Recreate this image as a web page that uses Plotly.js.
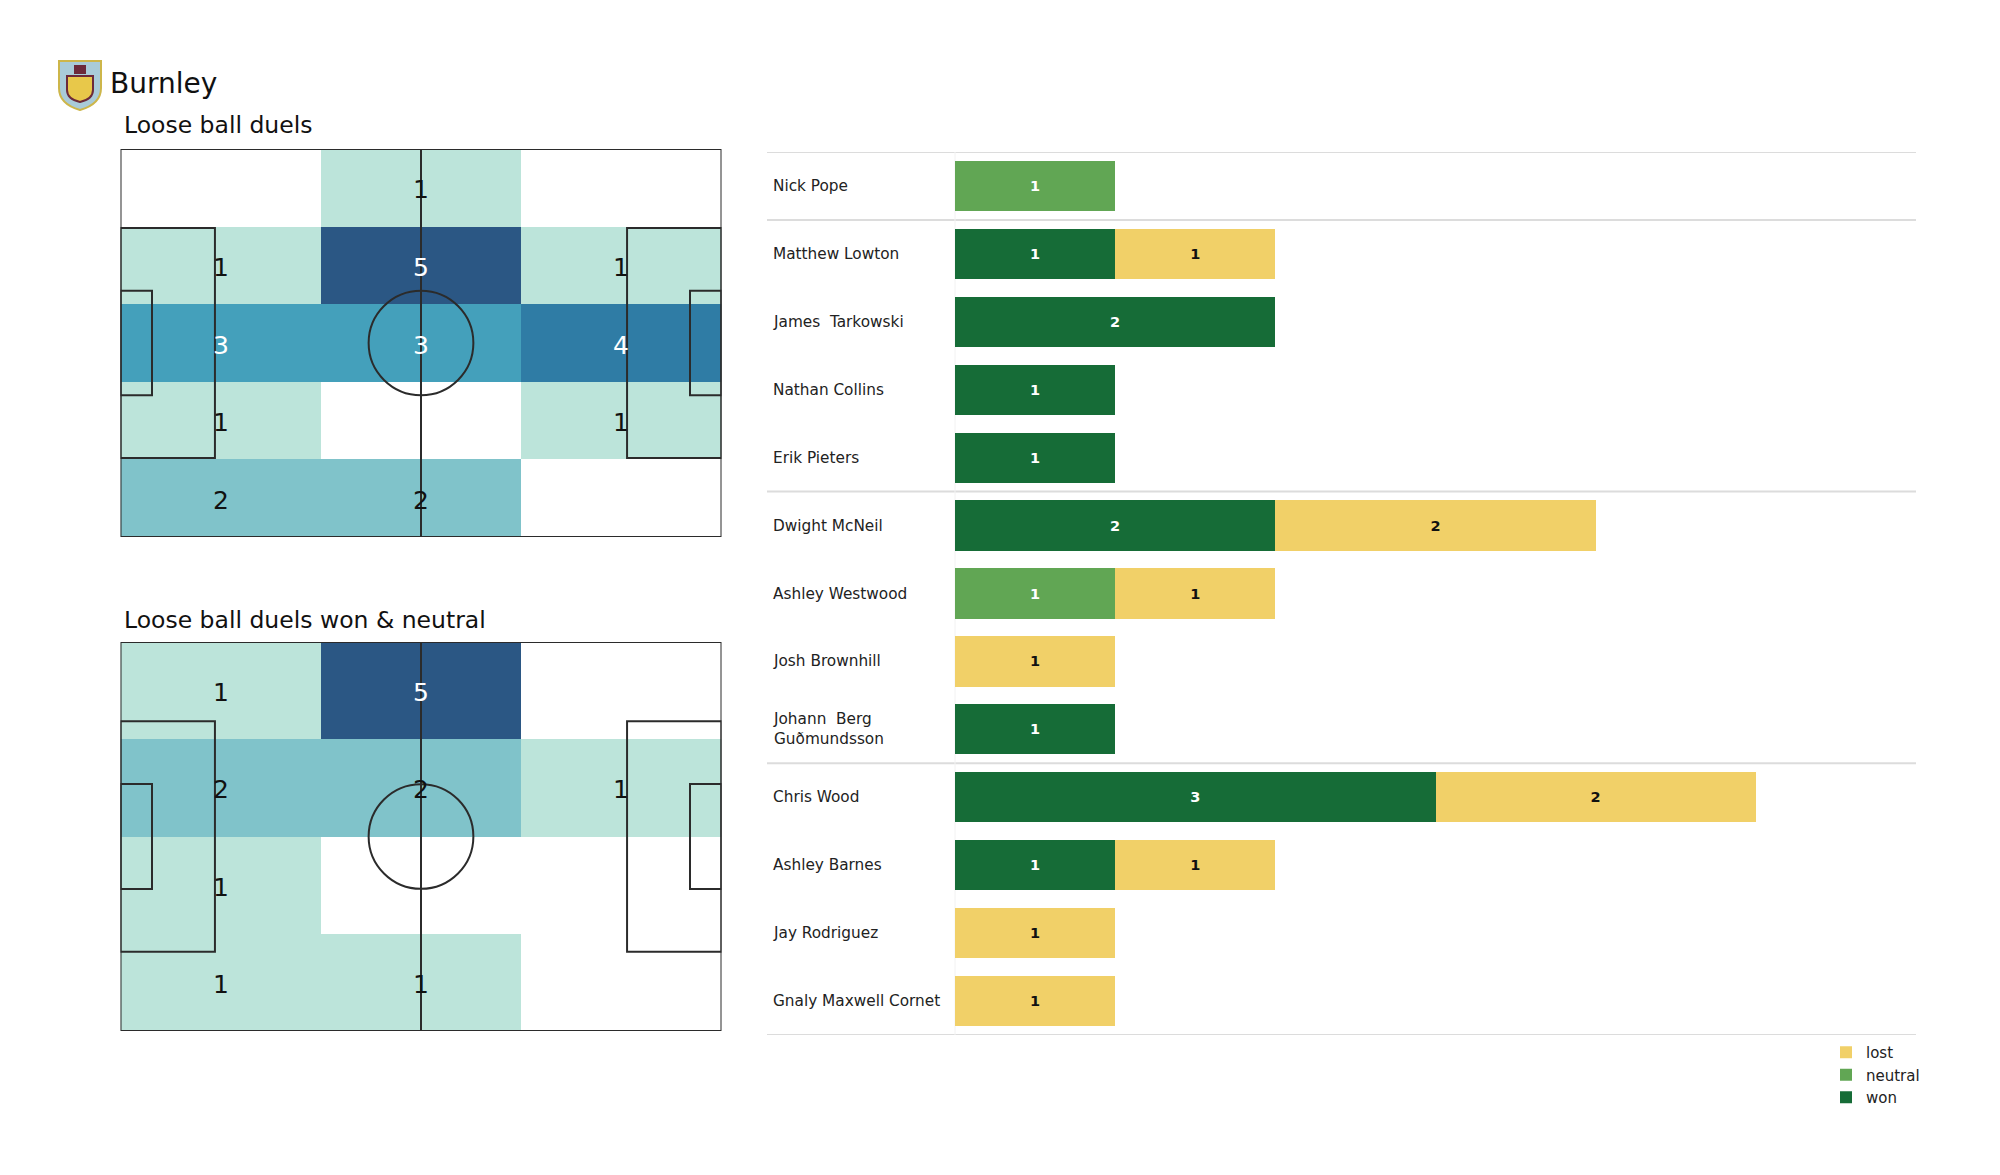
<!DOCTYPE html>
<html>
<head>
<meta charset="utf-8">
<script src="https://cdn.plot.ly/plotly-3.0.1.min.js"></script>
<style>html,body{margin:0;padding:0;background:#fff}</style>
</head>
<body>
<div id="chart" style="width:2000px;height:1175px"></div>
<script>
// ---------- DATA ----------
const teamName = 'Burnley';
const heatTitle1 = 'Loose ball duels';
const heatTitle2 = 'Loose ball duels won & neutral';

// heatmap 1: 5 rows (top to bottom) x 3 columns (left to right)
const heat1 = [
  [0, 1, 0],
  [1, 5, 1],
  [3, 3, 4],
  [1, 0, 1],
  [2, 2, 0]
];
// heatmap 2: 4 rows x 3 columns
const heat2 = [
  [1, 5, 0],
  [2, 2, 1],
  [1, 0, 0],
  [1, 1, 0]
];

const players = ['Nick Pope', 'Matthew Lowton', 'James \u00a0Tarkowski', 'Nathan Collins', 'Erik Pieters',
  'Dwight McNeil', 'Ashley Westwood', 'Josh Brownhill', 'Johann \u00a0Berg Guðmundsson',
  'Chris Wood', 'Ashley Barnes', 'Jay Rodriguez', 'Gnaly Maxwell Cornet'];
const won     = [0, 1, 2, 1, 1, 2, 0, 0, 1, 3, 1, 0, 0];
const neutral = [1, 0, 0, 0, 0, 0, 1, 0, 0, 0, 0, 0, 0];
const lost    = [0, 1, 0, 0, 0, 2, 1, 1, 0, 2, 1, 1, 1];
const groupBreaks = [1, 5, 9]; // index of first player of each group after the first

// ---------- STYLE ----------
const W = 2000, H = 1175;
const px = v => v / W, py = v => 1 - v / H;
const FONT = 'DejaVu Sans, Verdana, sans-serif';
const PL = 105, PW = 68;
const heatScale = [[0, '#ffffff'], [0.2, '#bce4da'], [0.4, '#80c3ca'], [0.6, '#44a0bb'], [0.8, '#2f7ca5'], [1, '#2b5784']];
const colWon = '#166c37', colNeutral = '#61a654', colLost = '#f1d068';

function cellCenters(z) {
  const nr = z.length, nc = z[0].length;
  const xs = [], ys = [];
  for (let c = 0; c < nc; c++) xs.push((c + 0.5) * PL / nc);
  for (let r = 0; r < nr; r++) ys.push((r + 0.5) * PW / nr);
  return {xs, ys};
}
function heatTrace(z, xa, ya) {
  const {xs, ys} = cellCenters(z);
  return {type: 'heatmap', z: z, x: xs, y: ys, xaxis: xa, yaxis: ya, zmin: 0, zmax: 5,
    colorscale: heatScale, showscale: false, showlegend: false, hoverinfo: 'skip'};
}
function heatLabels(z, xa, ya) {
  const {xs, ys} = cellCenters(z);
  const out = [];
  z.forEach((row, r) => row.forEach((v, c) => {
    if (v > 0) out.push({text: String(v), xref: xa, yref: ya, x: xs[c], y: ys[r], showarrow: false,
      xanchor: 'center', yanchor: 'middle', yshift: -2,
      font: {family: FONT, size: 25, color: v >= 3 ? '#ffffff' : '#111111'}});
  }));
  return out;
}

function pitchShapes(xr, yr) {
  const L = {color: '#2b2b2b', width: 2};
  const s = [];
  const rect = (x0, y0, x1, y1) => s.push({type: 'rect', xref: xr, yref: yr, x0, y0, x1, y1, line: L, layer: 'above'});
  rect(0, 0, PL, PW);
  s.push({type: 'line', xref: xr, yref: yr, x0: PL / 2, x1: PL / 2, y0: 0, y1: PW, line: L, layer: 'above'});
  s.push({type: 'circle', xref: xr, yref: yr, x0: PL / 2 - 9.15, x1: PL / 2 + 9.15, y0: PW / 2 - 9.15, y1: PW / 2 + 9.15, line: L, layer: 'above'});
  const pbH = 40.32, gaH = 18.32;
  rect(0, (PW - pbH) / 2, 16.5, (PW + pbH) / 2);
  rect(PL - 16.5, (PW - pbH) / 2, PL, (PW + pbH) / 2);
  rect(0, (PW - gaH) / 2, 5.5, (PW + gaH) / 2);
  rect(PL - 5.5, (PW - gaH) / 2, PL, (PW + gaH) / 2);
  return s;
}

const txtOf = arr => arr.map(v => v ? String(v) : '');
function barTrace(name, vals, color, txtColor) {
  return {type: 'bar', orientation: 'h', name: name, x: vals, y: players, xaxis: 'x3', yaxis: 'y3',
    marker: {color: color, line: {width: 0}}, width: 0.74,
    text: txtOf(vals), textposition: 'inside', insidetextanchor: 'middle', textangle: 0,
    constraintext: 'none', hoverinfo: 'skip',
    textfont: {family: FONT, size: 14.5, color: txtColor, weight: 'bold'}};
}

const traces = [
  heatTrace(heat1, 'x', 'y'),
  heatTrace(heat2, 'x2', 'y2'),
  barTrace('won', won, colWon, '#ffffff'),
  barTrace('neutral', neutral, colNeutral, '#ffffff'),
  barTrace('lost', lost, colLost, '#111111')
];

const hidden = {showgrid: false, zeroline: false, showticklabels: false, ticks: '', showline: false, fixedrange: true};
const pitchX = [px(120.5), px(721.5)];

// separator lines for bar table
const sepY = [-0.5, ...groupBreaks.map(i => i - 0.5), players.length - 0.5];
const shapes = [
  ...pitchShapes('x', 'y'),
  ...pitchShapes('x2', 'y2'),
  ...sepY.map(v => ({type: 'line', xref: 'paper', yref: 'y3', x0: px(767), x1: px(1916), y0: v, y1: v,
    line: {color: '#dcdcdc', width: 2}, layer: 'below'})),
  {type: 'line', xref: 'paper', yref: 'paper', x0: px(955), x1: px(955), y0: py(1035), y1: py(152),
    line: {color: '#f2f2f2', width: 1}, layer: 'below'},
  // simple crest
  {type: 'path', xref: 'paper', yref: 'paper',
    path: `M ${px(59)},${py(61)} L ${px(101)},${py(61)} L ${px(101)},${py(88)} Q ${px(101)},${py(104)} ${px(80)},${py(110)} Q ${px(59)},${py(104)} ${px(59)},${py(88)} Z`,
    fillcolor: '#a9cbd8', line: {color: '#cdb64a', width: 2}},
  {type: 'path', xref: 'paper', yref: 'paper',
    path: `M ${px(67)},${py(76)} L ${px(93)},${py(76)} L ${px(93)},${py(90)} Q ${px(93)},${py(99)} ${px(80)},${py(102)} Q ${px(67)},${py(99)} ${px(67)},${py(90)} Z`,
    fillcolor: '#e8c84a', line: {color: '#6c2a3a', width: 2}},
  {type: 'rect', xref: 'paper', yref: 'paper', x0: px(74), x1: px(86), y0: py(74), y1: py(65),
    fillcolor: '#6c2a3a', line: {width: 0}}
];

const wrap = s => s.length > 20 ? s.replace(/ (?=[^ ]*$)/, '<br>') : s;
const annotations = [
  {text: teamName, xref: 'paper', yref: 'paper', x: px(108), y: py(83), xanchor: 'left', yanchor: 'middle',
    showarrow: false, font: {family: FONT, size: 28, color: '#111'}},
  {text: heatTitle1, xref: 'paper', yref: 'paper', x: px(122), y: py(125), xanchor: 'left', yanchor: 'middle',
    showarrow: false, font: {family: FONT, size: 23.5, color: '#111'}},
  {text: heatTitle2, xref: 'paper', yref: 'paper', x: px(122), y: py(620), xanchor: 'left', yanchor: 'middle',
    showarrow: false, font: {family: FONT, size: 23.5, color: '#111'}},
  ...heatLabels(heat1, 'x', 'y'),
  ...heatLabels(heat2, 'x2', 'y2'),
  ...players.map((p, i) => ({text: wrap(p), xref: 'paper', yref: 'y3', x: px(771), y: i, xanchor: 'left',
    yanchor: 'middle', align: 'left', showarrow: false, font: {family: FONT, size: 15.3, color: '#222'}}))
];

const layout = {
  width: W, height: H, margin: {l: 0, r: 0, t: 0, b: 0},
  paper_bgcolor: '#ffffff', plot_bgcolor: 'rgba(0,0,0,0)',
  barmode: 'stack',
  xaxis: Object.assign({domain: pitchX, range: [0, PL]}, hidden),
  yaxis: Object.assign({domain: [py(537), py(149)], range: [PW, 0]}, hidden),
  xaxis2: Object.assign({domain: pitchX, range: [0, PL], anchor: 'y2'}, hidden),
  yaxis2: Object.assign({domain: [py(1031), py(642)], range: [PW, 0], anchor: 'x2'}, hidden),
  xaxis3: Object.assign({domain: [px(955), px(1916)], range: [0, 6], anchor: 'y3'}, hidden),
  yaxis3: Object.assign({domain: [py(1035), py(152)], type: 'category', categoryarray: players,
    categoryorder: 'array', range: [players.length - 0.5, -0.5], anchor: 'x3'}, hidden),
  showlegend: true,
  legend: {x: px(1826), y: py(1036), xanchor: 'left', yanchor: 'top', traceorder: 'reversed',
    font: {family: FONT, size: 15, color: '#222'}, bgcolor: 'rgba(0,0,0,0)', itemclick: false,
    tracegroupgap: 0},
  shapes: shapes,
  annotations: annotations,
  font: {family: FONT}
};

Plotly.newPlot('chart', traces, layout, {displayModeBar: false, staticPlot: true});
</script>
</body>
</html>
